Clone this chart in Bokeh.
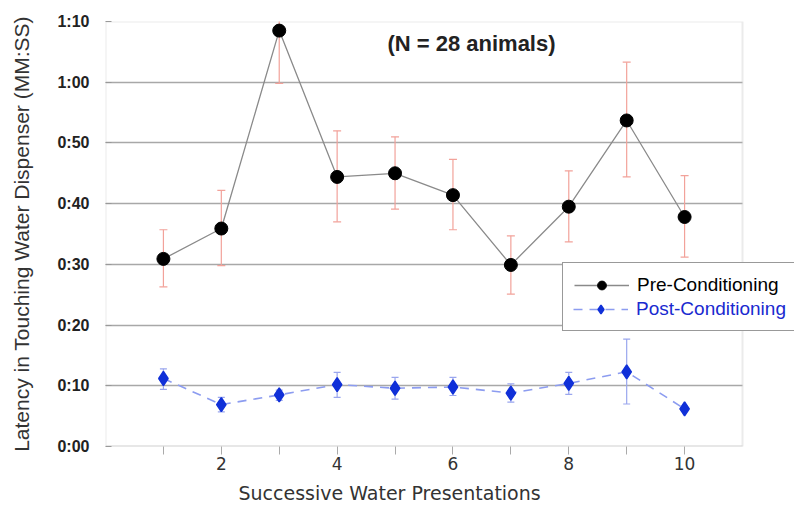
from bokeh.plotting import figure
from bokeh.models import (ColumnDataSource, Whisker, TeeHead, Legend, LegendItem,
                          Label, FixedTicker, Range1d, BoxAnnotation)
from bokeh.embed import file_html
from bokeh.resources import INLINE

# ---- data ----
presentations = [1, 2, 3, 4, 5, 6, 7, 8, 9, 10]
pre_mean = [30.9, 35.9, 68.5, 44.4, 45.0, 41.4, 29.9, 39.5, 53.7, 37.8]
pre_low = [26.3, 29.8, 59.8, 37.0, 39.1, 35.7, 25.1, 33.7, 44.4, 31.2]
pre_high = [35.7, 42.2, 77.2, 52.0, 51.0, 47.3, 34.7, 45.4, 63.3, 44.6]
post_mean = [11.2, 6.9, 8.5, 10.2, 9.6, 9.8, 8.8, 10.4, 12.3, 6.2]
post_low = [9.4, 5.7, 7.6, 8.1, 7.8, 8.4, 7.3, 8.6, 7.0, 5.8]
post_high = [12.8, 8.1, 9.3, 12.2, 11.4, 11.4, 10.3, 12.2, 17.7, 6.6]
y_ticks = [0, 10, 20, 30, 40, 50, 60, 70]
y_tick_labels = ["0:00", "0:10", "0:20", "0:30", "0:40", "0:50", "1:00", "1:10"]
x_ticks = [2, 4, 6, 8, 10]
x_minor_ticks = [1, 3, 5, 7, 9]
x_start, x_end = 0, 11          # visible chart box (x)
y_start, y_end = 0, 70          # visible chart box (y, seconds)

pre_src = ColumnDataSource(dict(x=presentations, y=pre_mean, low=pre_low, high=pre_high))
post_src = ColumnDataSource(dict(x=presentations, y=post_mean, low=post_low, high=post_high))

# frame extends to the right canvas edge so the legend can overhang the chart box
frame_left, box_right, canvas_w = 105, 742, 794
x_extra = (canvas_w - frame_left) / (box_right - frame_left) * (x_end - x_start)

p = figure(width=794, height=506, x_range=Range1d(x_start, x_start + x_extra),
           y_range=Range1d(y_start, y_end),
           output_backend="svg", toolbar_location=None,
           min_border_left=frame_left, min_border_right=0, min_border_top=21, min_border_bottom=59)
p.background_fill_color = "white"
p.border_fill_color = "white"
p.outline_line_color = None

# y axis
p.yaxis.ticker = FixedTicker(ticks=y_ticks)
p.yaxis.major_label_overrides = {t: l for t, l in zip(y_ticks, y_tick_labels)}
p.yaxis.major_tick_in = 6
p.yaxis.major_tick_out = 0
p.yaxis.minor_tick_line_color = None
p.yaxis.axis_line_color = None
p.yaxis.major_tick_line_color = "#999999"
p.yaxis.major_label_text_font = "Liberation Sans"
p.yaxis.major_label_text_font_style = "bold"
p.yaxis.major_label_text_font_size = "16px"
p.yaxis.major_label_text_color = "#222222"
p.yaxis.major_label_standoff = 16
p.yaxis.axis_label = "Latency in Touching Water Dispenser (MM:SS)"
p.yaxis.axis_label_text_font = "Liberation Sans"
p.yaxis.axis_label_text_font_style = "normal"
p.yaxis.axis_label_text_font_size = "21px"
p.yaxis.axis_label_text_color = "#333333"
p.yaxis.axis_label_standoff = 21

# x axis
p.xaxis.ticker = FixedTicker(ticks=x_ticks, minor_ticks=x_minor_ticks)
p.xaxis.major_tick_in = 0
p.xaxis.major_tick_out = 8
p.xaxis.minor_tick_in = 0
p.xaxis.minor_tick_out = 8
p.xaxis.axis_line_color = None
p.xaxis.major_tick_line_color = "#aaaaaa"
p.xaxis.minor_tick_line_color = "#aaaaaa"
p.xaxis.major_label_text_font = "DejaVu Sans"
p.xaxis.major_label_text_font_size = "17px"
p.xaxis.major_label_text_color = "#333333"
p.xaxis.major_label_standoff = 2
p.xaxis.axis_label = "Successive Water Presentations" + "\u00a0" * 20
p.xaxis.axis_label_text_font = "DejaVu Sans"
p.xaxis.axis_label_text_font_style = "normal"
p.xaxis.axis_label_text_font_size = "19px"
p.xaxis.axis_label_text_color = "#333333"
p.xaxis.axis_label_standoff = 9

# grid
p.xgrid.grid_line_color = None
p.ygrid.ticker = FixedTicker(ticks=y_ticks)
p.ygrid.grid_line_color = "#a8a8a8"
p.ygrid.grid_line_width = 1.5

# white cover right of the chart box, then the chart box border
p.add_layout(BoxAnnotation(left=x_end, fill_color="white", fill_alpha=1.0, line_alpha=0,
                           level="underlay"))
p.add_layout(BoxAnnotation(left=x_start, right=x_end, bottom=y_start, top=y_end,
                           fill_alpha=0, line_color="#bcbcbc", line_width=2, level="underlay"))
p.add_layout(BoxAnnotation(left=x_start, right=x_end, bottom=y_start, top=y_start,
                           fill_alpha=0, line_color="#9a9a9a", line_width=2, level="underlay"))

# error bars
pre_err = Whisker(base="x", lower="low", upper="high", source=pre_src,
                  line_color="#f2a29a", line_width=1.2, level="underlay",
                  upper_head=TeeHead(size=8, line_color="#f2a29a", line_width=1.2),
                  lower_head=TeeHead(size=8, line_color="#f2a29a", line_width=1.2))
post_err = Whisker(base="x", lower="low", upper="high", source=post_src,
                   line_color="#9aa6ee", line_width=1.2, level="underlay",
                   upper_head=TeeHead(size=7, line_color="#9aa6ee", line_width=1.2),
                   lower_head=TeeHead(size=7, line_color="#9aa6ee", line_width=1.2))
p.add_layout(pre_err)
p.add_layout(post_err)

pre_line = p.line("x", "y", source=pre_src, line_color="#8a8a8a", line_width=1.3)
pre_pts = p.scatter("x", "y", source=pre_src, size=13, fill_color="black", line_color="black")
post_line = p.line("x", "y", source=post_src, line_color="#8c9cf0", line_width=1.6, line_dash="9 7")
post_pts = p.scatter("x", "y", source=post_src, marker="diamond", size=14,
                     fill_color="#1030d8", line_color="#1030d8", line_width=1.5)
dummy = p.scatter([], [], fill_alpha=0, line_alpha=0)

p.add_layout(Label(x=6.32, y=66.4, text="(N = 28 animals)", text_font="Liberation Sans",
                   text_font_size="22px", text_font_style="bold", text_color="#222222",
                   text_align="center", text_baseline="middle"))

leg_common = dict(location=(457, 115), padding=11, spacing=1, glyph_width=55, glyph_height=22,
                  label_height=22, label_width=175, label_standoff=8, margin=0,
                  label_text_font="Liberation Sans", label_text_font_size="19px")
leg1 = Legend(items=[LegendItem(label="Pre-Conditioning", renderers=[pre_line, pre_pts]),
                     LegendItem(label=" ", renderers=[dummy])],
              border_line_color="#333333", border_line_width=1.5,
              background_fill_color="white", background_fill_alpha=1.0,
              label_text_color="black", **leg_common)
leg2 = Legend(items=[LegendItem(label="Post-Conditioning", renderers=[post_line, post_pts])],
              border_line_alpha=0, background_fill_alpha=0,
              label_text_color="#1a2ad0", **leg_common)
p.add_layout(leg1)
p.add_layout(leg2)

open("out.html", "w").write(file_html(p, INLINE))
